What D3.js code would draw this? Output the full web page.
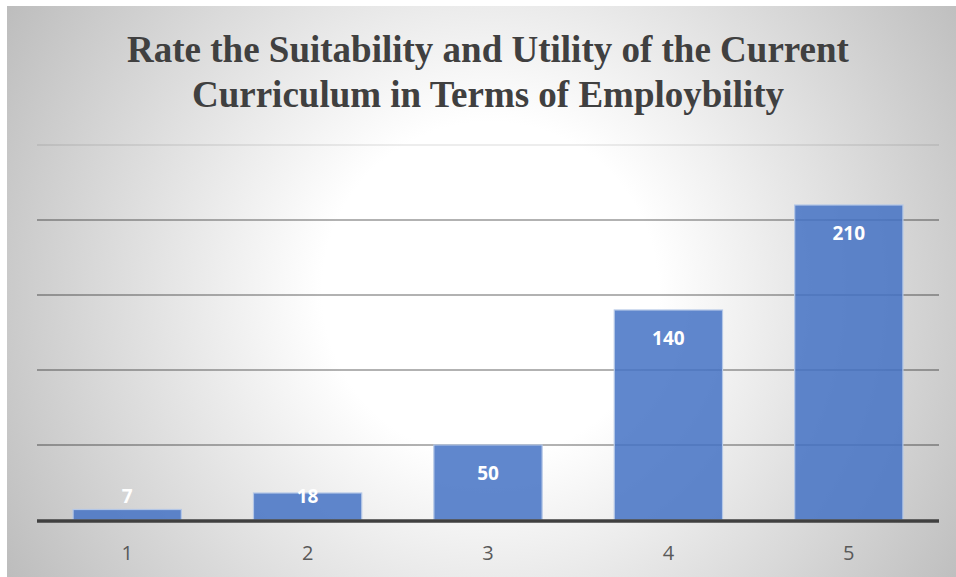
<!DOCTYPE html>
<html>
<head>
<meta charset="utf-8">
<script src="https://cdn.jsdelivr.net/npm/d3@7"></script>
<style>
  html, body { margin: 0; padding: 0; background: #fff; }
  svg { display: block; }
</style>
</head>
<body>
<div id="chart"></div>
<script>
var width = 956,
    height = 577;

// chart data
var categories = ["1", "2", "3", "4", "5"];
var values = [7, 18, 50, 140, 210];
var yTicks = [0, 50, 100, 150, 200, 250];
var titleLines = ["Rate the Suitability and Utility of the Current",
                  "Curriculum in Terms of Employbility"];

var margin = {left: 37, right: 17, top: 145, bottom: 57};

var svg = d3.select("#chart").append("svg")
    .attr("width", width)
    .attr("height", height);

// background gradient
var defs = svg.append("defs");
var grad = defs.append("radialGradient")
    .attr("id", "bg")
    .attr("gradientUnits", "userSpaceOnUse")
    .attr("cx", 490).attr("cy", 290)
    .attr("r", 560);
grad.append("stop").attr("offset", "0").attr("stop-color", "#ffffff");
grad.append("stop").attr("offset", "0.3").attr("stop-color", "#ffffff");
grad.append("stop").attr("offset", "1").attr("stop-color", "#bdbdbd");

svg.append("rect")
    .attr("x", 7).attr("y", 6)
    .attr("width", width - 7).attr("height", height - 6)
    .style("fill", "url(#bg)");

var x = d3.scaleBand()
    .domain(categories)
    .range([margin.left, width - margin.right])
    .paddingInner(0.4)
    .paddingOuter(0.2);

var y = d3.scaleLinear()
    .domain([0, 250])
    .range([height - margin.bottom, margin.top]);

// gridlines
svg.selectAll(".grid").data(yTicks.slice(1)).enter()
  .append("line")
    .attr("class", "grid")
    .attr("x1", margin.left)
    .attr("x2", width - margin.right)
    .attr("y1", function(d) { return y(d); })
    .attr("y2", function(d) { return y(d); })
    .style("stroke", function(d) { return d == 250 ? "rgba(0,0,0,0.07)" : "rgba(0,0,0,0.3)"; })
    .style("stroke-width", 2);

// bars
svg.selectAll(".bar").data(values).enter()
  .append("rect")
    .attr("class", "bar")
    .attr("x", function(d, i) { return x(categories[i]); })
    .attr("y", function(d) { return y(d); })
    .attr("width", x.bandwidth())
    .attr("height", function(d) { return y(0) - y(d); })
    .style("fill", "#4472c4")
    .style("fill-opacity", 0.85)
    .style("stroke", "#b4c7e7")
    .style("stroke-width", 1.2);

// x axis line
svg.append("line")
    .attr("x1", margin.left)
    .attr("x2", width - margin.right)
    .attr("y1", y(0) + 1)
    .attr("y2", y(0) + 1)
    .style("stroke", "#404040")
    .style("stroke-width", 3.5);

// category labels
svg.selectAll(".xlab").data(categories).enter()
  .append("text")
    .attr("class", "xlab")
    .attr("x", function(d) { return x(d) + x.bandwidth() / 2; })
    .attr("y", y(0) + 40)
    .attr("text-anchor", "middle")
    .attr("font-family", "'Open Sans', sans-serif")
    .attr("font-size", "20px")
    .style("fill", "#595959")
    .text(function(d) { return d; });

// value labels
svg.selectAll(".vlab").data(values).enter()
  .append("text")
    .attr("class", "vlab")
    .attr("x", function(d, i) { return x(categories[i]) + x.bandwidth() / 2; })
    .attr("y", function(d) { return Math.min(y(d) + 28, y(0) - 24); })
    .attr("dy", "0.35em")
    .attr("text-anchor", "middle")
    .attr("font-family", "'Open Sans', sans-serif")
    .attr("font-weight", "bold")
    .attr("font-size", "19px")
    .style("fill", "#ffffff")
    .text(function(d) { return d; });

// title
svg.selectAll(".title").data(titleLines).enter()
  .append("text")
    .attr("class", "title")
    .attr("x", 488)
    .attr("y", function(d, i) { return 62 + i * 45; })
    .attr("text-anchor", "middle")
    .attr("font-family", "'Liberation Serif', 'Times New Roman', serif")
    .attr("font-weight", "bold")
    .attr("font-size", "37px")
    .style("fill", "#404040")
    .text(function(d) { return d; });
</script>
</body>
</html>
